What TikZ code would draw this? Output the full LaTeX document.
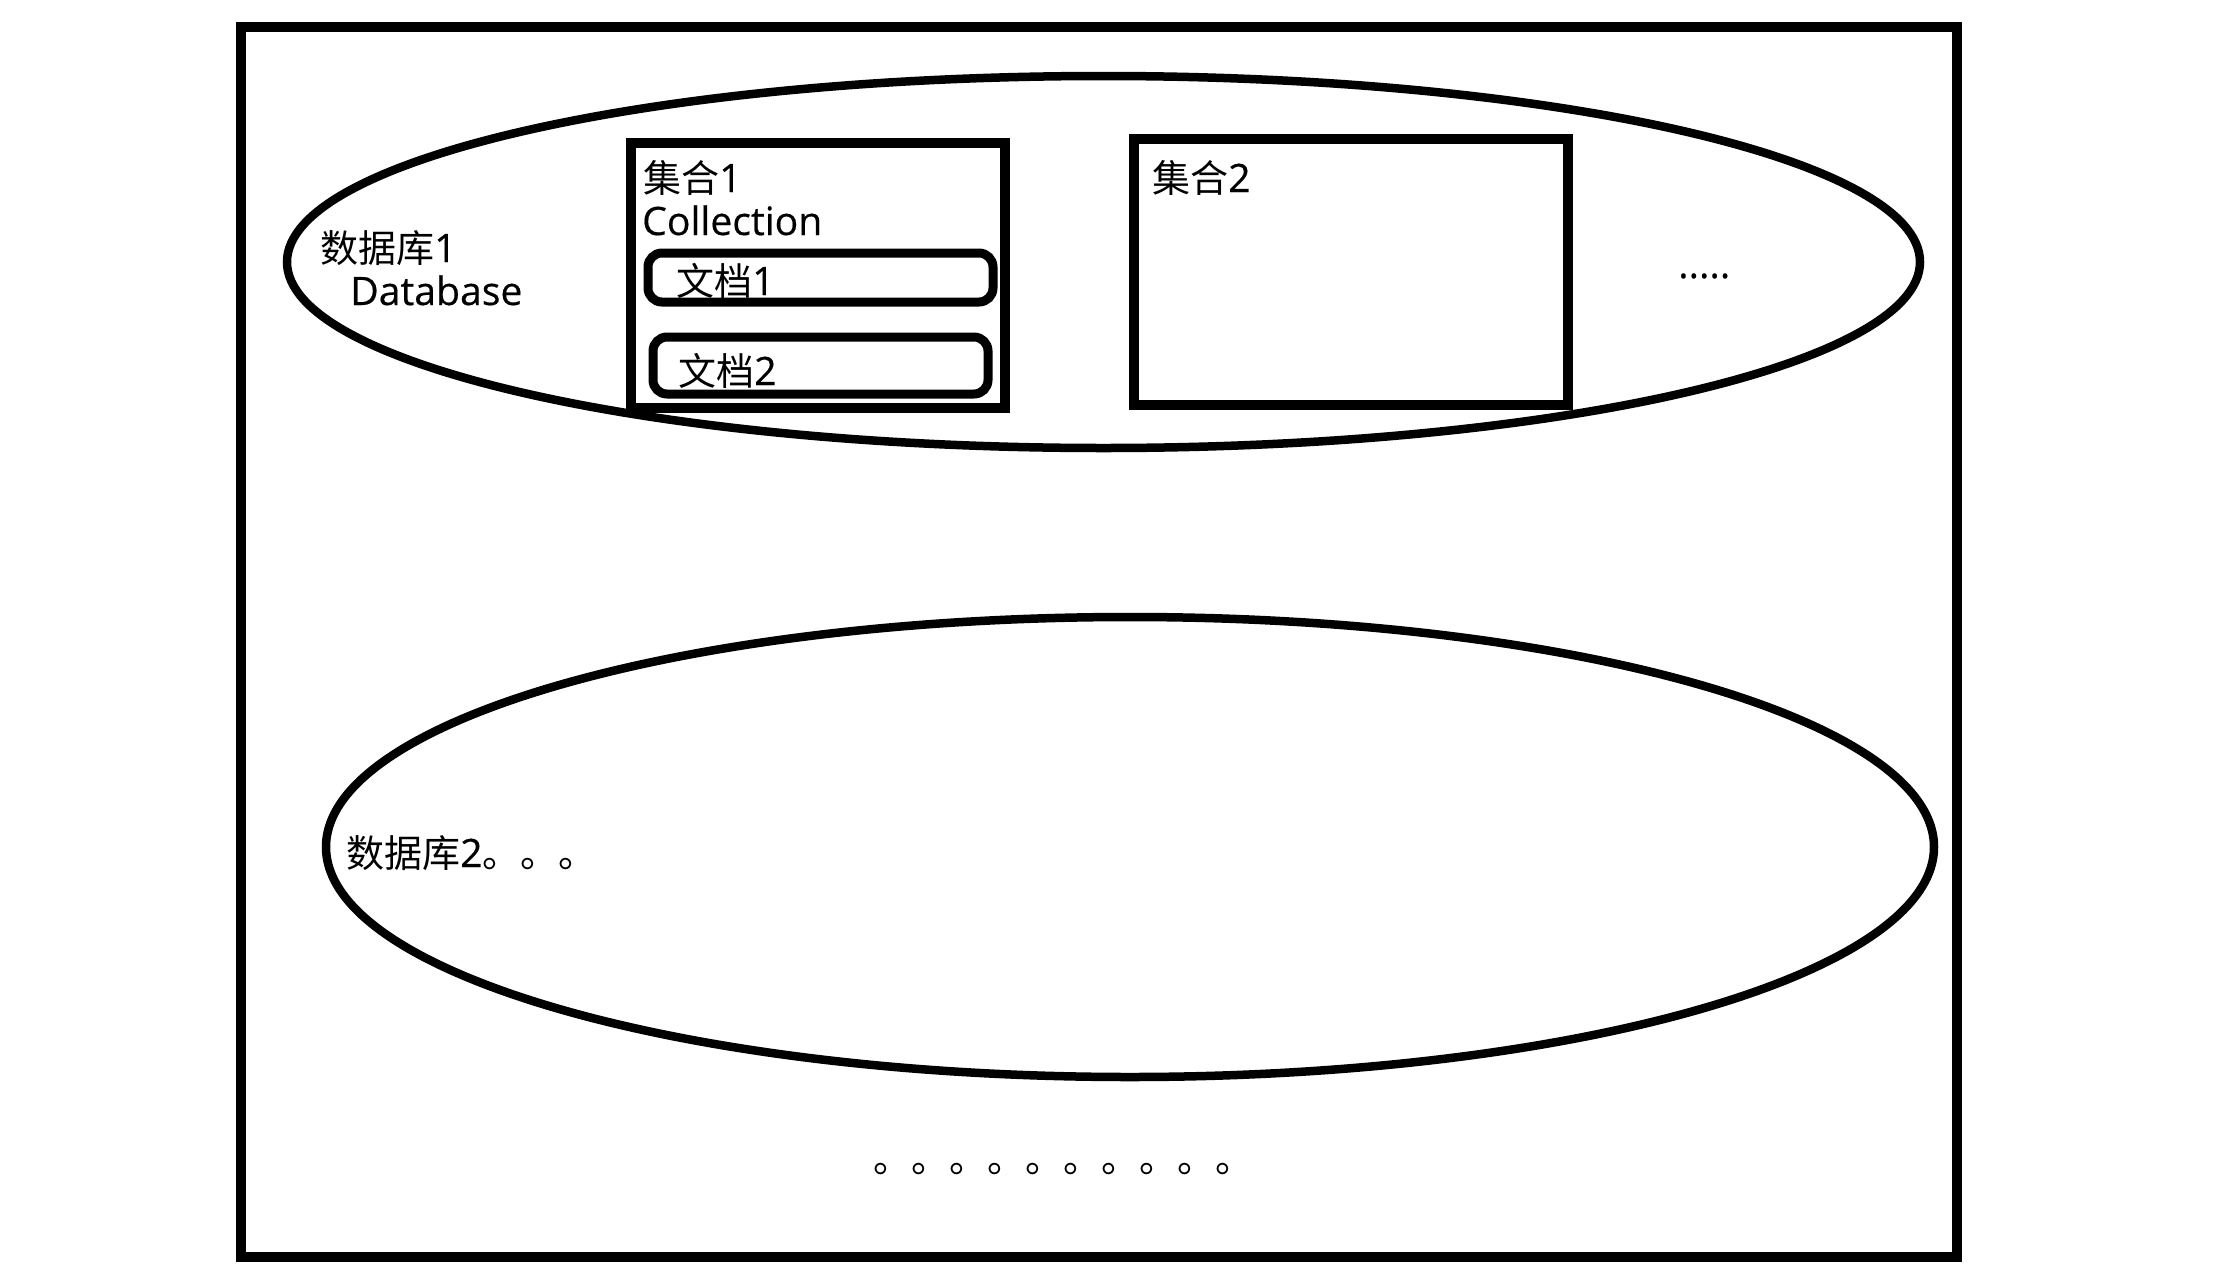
\documentclass[tikz,border=0pt]{standalone}
\usepackage{fontspec}
\setmainfont[FakeBold=0.4,Scale=1.03]{Open Sans}
\newfontfamily\cjk{Noto Sans CJK SC}
\begin{document}
\begin{tikzpicture}[x=1pt,y=-1pt,
  frame/.style={draw=black,line width=9.5pt},
  oval/.style={draw=black,line width=8.5pt},
  docbox/.style={draw=black,line width=9pt,rounded corners=14pt},
  lbl/.style={anchor=base west,inner sep=0pt,font=\fontsize{38pt}{46pt}\selectfont}]
\useasboundingbox[fill=white] (0,0) rectangle (2230,1275);
% server frame
\draw[frame] (241,27) rectangle (1957,1257);
% databases
\draw[oval] (1103.5,262) ellipse [x radius=816.5, y radius=186];
\draw[oval] (1130,847) ellipse [x radius=804, y radius=230];
% collections
\draw[frame] (631,143) rectangle (1005,408);
\draw[docbox] (648,253) rectangle (993,302);
\draw[docbox] (653,337) rectangle (988,394);
\draw[frame] (1134,139) rectangle (1568,405);
% labels
\node[lbl] (db1) at (320,262) {{\cjk 数据库}1};
\node[lbl] (db1en) at (350,305) {Database};
\node[lbl] (c1) at (643,192) {{\cjk 集合}1};
\node[lbl] (c1en) at (642,235) {Collection};
\node[lbl] (d1) at (676,295) {{\cjk 文档}1};
\node[lbl] (d2) at (678,385) {{\cjk 文档}2};
\node[lbl] (c2) at (1152,192) {{\cjk 集合}2};
\node[lbl] (more) at (1678,278) {.....};
\node[lbl] (db2) at (346,867) {{\cjk 数据库}2{\cjk 。。。}};
\node[lbl] (etc) at (873,1172) {\cjk 。。。。。。。。。。};
\end{tikzpicture}
\end{document}
